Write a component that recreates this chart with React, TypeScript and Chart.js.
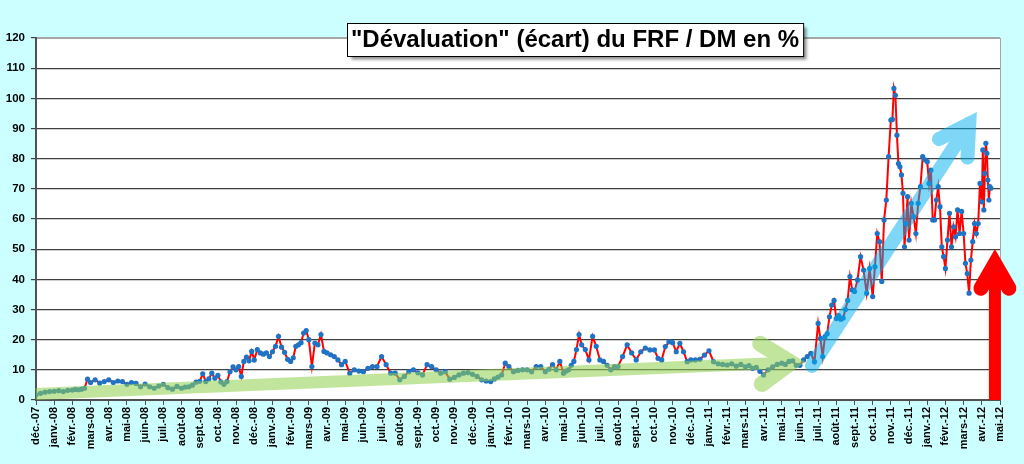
import { useEffect, useRef } from "react";
import { Chart, registerables } from "chart.js";

Chart.register(...registerables);

const FONT = "'Liberation Sans', Arial, sans-serif";

// month axis: 0 = déc.-07 ... 53 = mai-12
const MONTH_ABBR = ["janv.", "févr.", "mars", "avr.", "mai", "juin", "juil.", "août", "sept.", "oct.", "nov.", "déc."];
const FIRST_MONTH = 11;
const FIRST_YEAR = 2007;
const MONTH_COUNT = 54;
const TICK_LABELS = Array.from({ length: MONTH_COUNT }, (_, i) => {
  const k = FIRST_MONTH + i;
  const yy = String((FIRST_YEAR + Math.floor(k / 12)) % 100).padStart(2, "0");
  return `${MONTH_ABBR[k % 12]}-${yy}`;
});

const Y_TICKS = [0, 10, 20, 30, 40, 50, 60, 70, 80, 90, 100, 110, 120];
const TITLE = "\"Dévaluation\" (écart) du FRF / DM en %";

// écart en %, readings spread evenly inside each month
const DEC_2007 = [[1.7, 2.2, 2.6, 2.8]];
const YEAR_2008 = [
  [2.9, 3.1, 2.8, 3.2],
  [3.3, 3.5, 3.4, 3.6, 3.9, 6.9],
  [5.8, 6.7, 5.6, 6.1],
  [6.7, 5.8, 6.3, 6.1],
  [5.2, 5.8, 5.5, 4.4],
  [5.3, 4.4, 3.9, 4.6],
  [5.2, 4.1, 3.6, 4.5],
  [3.9, 4.3, 4.4, 4.9, 5.9],
  [6.2, 8.7, 6.1, 7.0, 8.9, 7.2],
  [8.2, 6.0, 5.2, 6.1, 9.4, 11.0],
  [10.0, 11.1, 7.8, 12.8, 14.2, 13.0, 16.1],
  [13.3, 16.7, 15.6, 15.2, 15.6, 14.4],
];
const YEAR_2009 = [
  [16.0, 17.8, 21.1, 17.5, 15.8, 13.5],
  [12.8, 14.0, 17.8, 18.3, 19.0, 22.2, 23.0],
  [20.0, 11.1, 18.9, 18.3, 21.7, 16.1],
  [15.6, 15.0, 14.4, 13.3, 11.7],
  [12.8, 8.9, 10.0, 9.6],
  [9.4, 10.5, 11.1, 11.1],
  [14.4, 11.7, 8.9, 8.9],
  [6.7, 7.8, 9.4, 10.0],
  [9.0, 8.3, 11.7, 11.1],
  [10.0, 8.9, 9.4, 6.9],
  [7.5, 8.3, 8.9, 9.1],
  [8.5, 7.8, 6.7, 6.3],
];
const YEAR_2010 = [
  [6.1, 7.0, 7.6, 8.3, 12.2],
  [11.1, 9.4, 9.8, 10.0],
  [10.0, 9.4, 11.1, 11.1],
  [9.4, 10.2, 11.7, 10.0, 12.8],
  [8.9, 9.6, 10.0, 11.5, 12.8, 16.7, 21.7],
  [18.3, 16.7, 13.3, 21.1, 17.8],
  [13.3, 12.8, 11.5, 10.0, 11.1],
  [11.1, 14.4, 18.3, 15.6],
  [13.3, 16.0, 17.2, 16.6],
  [16.6, 13.8, 13.3, 17.7, 19.3],
  [19.0, 16.0, 18.8, 16.0, 12.7],
  [13.3, 13.3, 13.5, 14.9],
];
const YEAR_2011 = [
  [16.3, 12.7, 12.0, 11.8],
  [11.6, 12.0, 11.2, 11.8],
  [11.0, 11.4, 10.5, 10.8, 9.5],
  [8.3, 10.0, 11.0, 11.8],
  [12.2, 11.8, 12.8, 13.0, 11.5],
  [11.5, 13.3, 14.4, 15.5, 12.7],
  [25.4, 20.4, 14.4, 21.0, 22.0, 27.6, 31.5, 33.0],
  [27.0, 28.0, 26.8, 27.2, 30.0, 33.0, 40.9, 36.5],
  [36.0, 39.8, 47.5, 43.1, 35.4, 43.6],
  [34.3, 44.2, 55.2, 52.5, 39.3, 59.7, 66.3, 80.7],
  [92.8, 93.0, 103.3, 101.0, 87.8, 78.4, 77.3, 74.6, 68.5, 50.8, 58.5, 67.4],
  [53.0, 65.2, 60.8, 55.2, 65.2, 70.7, 80.7, 79.6],
];
// april 2012 stops mid-month: trailing nulls = no quote yet
const YEAR_2012 = [
  [79.0, 71.8, 76.2, 59.7, 59.7, 66.3, 70.7, 64.1, 50.8, 47.5],
  [43.6, 53.0, 61.9, 50.8, 57.4, 54.1, 63.0, 55.2, 62.5],
  [55.2, 45.3, 41.9, 35.4, 46.4, 52.5, 58.5, 55.2, 58.5, 71.8],
  [65.7, 82.9, 63.0, 75.1, 85.1, 81.8, 72.9, 66.3, 70.7, 70.2, null, null, null, null, null, null, null, null],
];

// hand-drawn trend arrows, anchors in (month, %)
const TREND_ARROWS = [
  { from: [0, 2.0], to: [41.5, 12.4], color: "rgba(146,208,80,1)", alpha: 0.55, shaft: 12, head: 16, len: 36, angle: 34, cap: "butt" },
  { from: [42.66, 11.3], to: [51.31, 91.6], color: "rgba(0,176,240,1)", alpha: 0.5, shaft: 14, head: 14, len: 34, angle: 30, cap: "round" },
  { from: [52.72, 0], to: [52.72, 45.1], color: "#FF0000", alpha: 1, shaft: 12, head: 15, len: 28, angle: 30, cap: "butt" },
];

const backdrop = {
  id: "backdrop",
  beforeDraw(chart: any) {
    const { ctx, chartArea: a, width, height } = chart;
    ctx.save();
    ctx.fillStyle = "#CCFFFF";
    ctx.fillRect(0, 0, width, height);
    ctx.fillStyle = "#FFFFFF";
    ctx.fillRect(a.left, a.top, a.right - a.left, a.bottom - a.top);
    ctx.strokeStyle = "#A6A6A6";
    ctx.lineWidth = 1;
    ctx.strokeRect(a.left + 0.5, a.top + 0.5, a.right - a.left, a.bottom - a.top);
    ctx.restore();
  },
};

function strokeArrow(c: CanvasRenderingContext2D, x0: number, y0: number, x1: number, y1: number, o: any) {
  c.strokeStyle = o.color;
  c.lineWidth = o.shaft;
  c.lineCap = o.cap;
  c.beginPath();
  c.moveTo(x0, y0);
  c.lineTo(x1, y1);
  c.stroke();
  const a = Math.atan2(y1 - y0, x1 - x0);
  const t = (o.angle * Math.PI) / 180;
  c.lineWidth = o.head;
  c.lineCap = "round";
  c.lineJoin = "miter";
  c.miterLimit = 10;
  c.beginPath();
  c.moveTo(x1 - o.len * Math.cos(a - t), y1 - o.len * Math.sin(a - t));
  c.lineTo(x1, y1);
  c.lineTo(x1 - o.len * Math.cos(a + t), y1 - o.len * Math.sin(a + t));
  c.stroke();
}

const arrows = {
  id: "arrows",
  afterDatasetsDraw(chart: any) {
    const { ctx, scales } = chart;
    const sx = scales.x, sy = scales.y;
    TREND_ARROWS.forEach(o => {
      const x0 = sx.getPixelForValue(o.from[0]), y0 = sy.getPixelForValue(o.from[1]);
      const x1 = sx.getPixelForValue(o.to[0]), y1 = sy.getPixelForValue(o.to[1]);
      // draw opaque offscreen, then blend once so overlaps don't darken
      const off = document.createElement("canvas");
      off.width = chart.canvas.width;
      off.height = chart.canvas.height;
      const oc = off.getContext("2d")!;
      oc.setTransform(ctx.getTransform());
      strokeArrow(oc, x0, y0, x1, y1, o);
      ctx.save();
      ctx.setTransform(1, 0, 0, 1, 0, 0);
      ctx.globalAlpha = o.alpha;
      ctx.drawImage(off, 0, 0);
      ctx.restore();
    });
  },
};

const titleBox = {
  id: "titleBox",
  afterDraw(chart: any) {
    const { ctx } = chart;
    ctx.save();
    ctx.font = `bold 24px ${FONT}`;
    const w = ctx.measureText(TITLE).width + 8;
    const h = 33;
    const cx = 575, cy = 39;
    const x = Math.round(cx - w / 2) + 0.5, y = Math.round(cy - h / 2) + 0.5;
    ctx.shadowColor = "rgba(0,0,0,0.45)";
    ctx.shadowOffsetX = 3;
    ctx.shadowOffsetY = 3;
    ctx.shadowBlur = 3;
    ctx.fillStyle = "#FFFFFF";
    ctx.fillRect(x, y, w, h);
    ctx.shadowColor = "transparent";
    ctx.strokeStyle = "#000000";
    ctx.lineWidth = 1;
    ctx.strokeRect(x, y, w, h);
    ctx.fillStyle = "#000000";
    ctx.textAlign = "center";
    ctx.textBaseline = "middle";
    ctx.fillText(TITLE, cx, cy + 1);
    ctx.restore();
  },
};

export default function App() {
  const canvasRef = useRef<HTMLCanvasElement>(null);
  const chartRef = useRef<Chart | null>(null);

  useEffect(() => {
    document.body.style.margin = "0";
    document.body.style.background = "#CCFFFF";
    if (!canvasRef.current) return;
    if (chartRef.current) chartRef.current.destroy();

    const months = [...DEC_2007, ...YEAR_2008, ...YEAR_2009, ...YEAR_2010, ...YEAR_2011, ...YEAR_2012];
    const points: { x: number; y: number }[] = [];
    months.forEach((vals, m) => {
      vals.forEach((v, j) => {
        if (v !== null) points.push({ x: m + j / vals.length, y: v });
      });
    });

    chartRef.current = new Chart(canvasRef.current, {
      type: "line",
      data: {
        datasets: [
          {
            data: points,
            borderColor: "#FF0000",
            borderWidth: 2,
            pointRadius: 2.6,
            pointHoverRadius: 0,
            pointBackgroundColor: "#1F72C4",
            pointBorderColor: "#1F72C4",
            pointBorderWidth: 0,
            tension: 0,
          },
        ],
      },
      options: {
        animation: false,
        responsive: false,
        events: [],
        layout: { padding: { top: 38, right: 24, left: 0, bottom: 0 } },
        scales: {
          x: {
            type: "linear",
            min: 0,
            max: MONTH_COUNT - 1,
            afterFit: (s: any) => { s.height = 64; },
            ticks: {
              stepSize: 1,
              autoSkip: false,
              minRotation: 90,
              maxRotation: 90,
              padding: 2,
              color: "#000",
              font: { family: FONT, size: 11, weight: "bold" },
              callback: (v: any) => TICK_LABELS[v] ?? "",
            },
            grid: { drawOnChartArea: false, drawTicks: true, tickLength: 5, color: "#505050" },
            border: { display: true, color: "#505050", width: 2 },
          },
          y: {
            min: 0,
            max: Y_TICKS[Y_TICKS.length - 1],
            afterFit: (s: any) => { s.width = 36; },
            afterBuildTicks: (s: any) => { s.ticks = Y_TICKS.map(v => ({ value: v })); },
            ticks: {
              padding: 6,
              color: "#000",
              font: { family: FONT, size: 11.5, weight: "bold" },
            },
            grid: {
              color: (c: any) => (c.tick && c.tick.value === 120 ? "#A6A6A6" : "#404040"),
              tickColor: "#404040",
              lineWidth: 1.2,
              tickLength: 5,
            },
            border: { display: true, color: "#505050", width: 2 },
          },
        },
        plugins: {
          legend: { display: false },
          tooltip: { enabled: false },
        },
      },
      plugins: [backdrop, arrows, titleBox],
    });

    return () => { chartRef.current?.destroy(); chartRef.current = null; };
  }, []);

  return (
    <div style={{ width: 1024, height: 464, background: "#CCFFFF" }}>
      <canvas ref={canvasRef} width={1024} height={464} style={{ display: "block", width: 1024, height: 464 }} />
    </div>
  );
}
